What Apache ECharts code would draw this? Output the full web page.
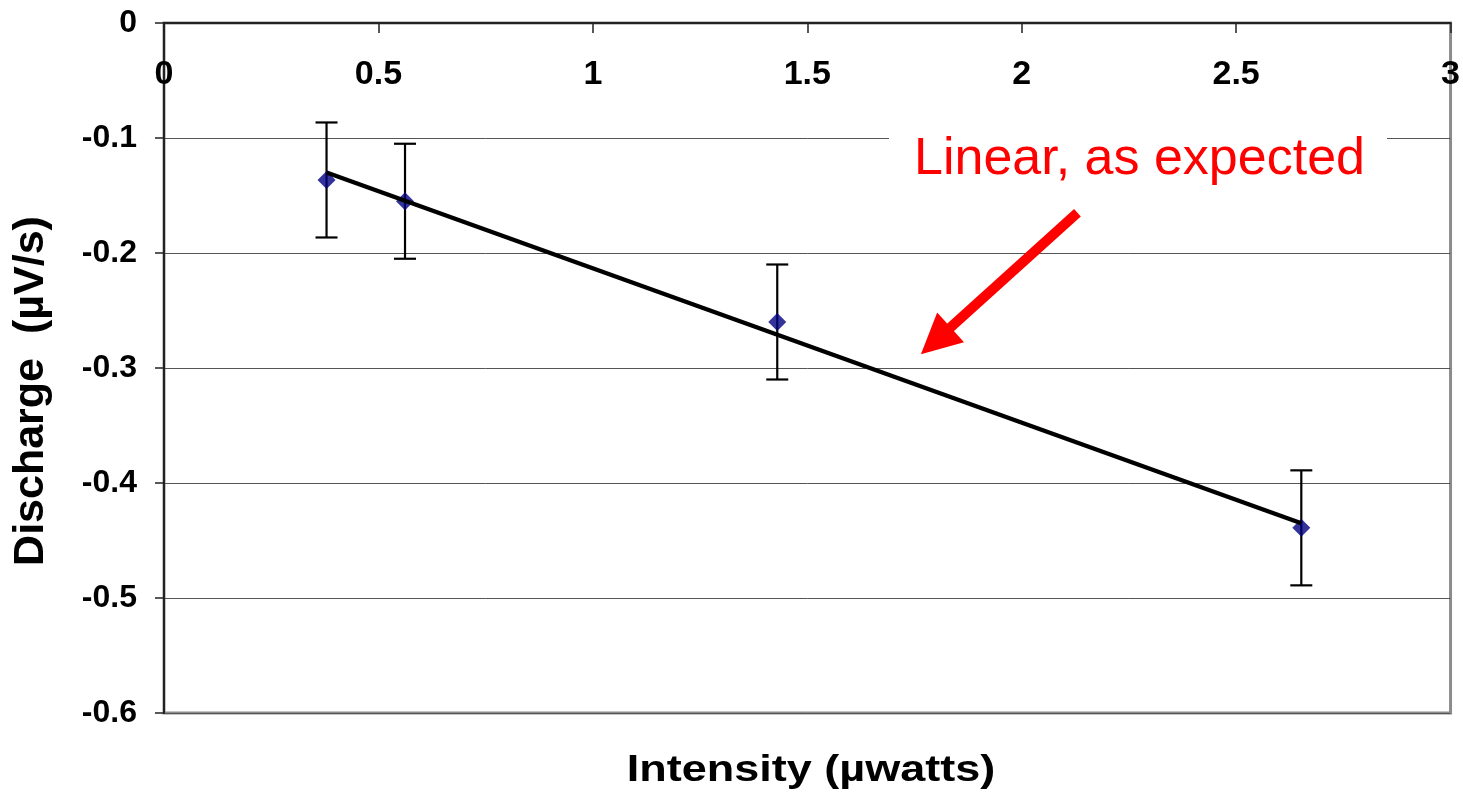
<!DOCTYPE html>
<html>
<head>
<meta charset="utf-8">
<script src="https://cdn.jsdelivr.net/npm/echarts@6/dist/echarts.min.js"></script>
<style>
  html, body { margin: 0; padding: 0; background: #fff; }
  #main { width: 1463px; height: 808px; }
</style>
</head>
<body>
<div id="main"></div>
<script>
// measured data
var intensity = [0.379, 0.562, 1.430, 2.652];
var discharge = [-0.1365, -0.155, -0.260, -0.439];
var errSize = [0.05, 0.05, 0.05, 0.05];
// trend line end points
var trendX = [0.379, 2.652];
var trendY = [-0.130, -0.435];
// annotation arrow (data units)
var arrowTail = [2.130, -0.165];
var arrowTip = [1.765, -0.288];

var font = 'Arial, "Liberation Sans", sans-serif';

var pts = intensity.map(function (x, i) { return [x, discharge[i]]; });
var errData = intensity.map(function (x, i) {
    return [x, discharge[i] - errSize[i], discharge[i] + errSize[i]];
});
var trendData = trendX.map(function (x, i) { return [x, trendY[i]]; });

var chart = echarts.init(document.getElementById('main'));

var option = {
    backgroundColor: '#fff',
    animation: false,
    grid: {
        left: 164, right: 9, top: 23, bottom: 95,
        show: true, borderColor: '#8c8c8c', borderWidth: 3, backgroundColor: 'transparent'
    },
    xAxis: {
        type: 'value', position: 'top',
        min: 0, max: 3, interval: 0.5,
        axisLine: {show: true, onZero: false, lineStyle: {color: '#222', width: 2}},
        axisTick: {show: true, inside: true, length: 10, lineStyle: {color: '#222', width: 1.5}},
        axisLabel: {inside: true, margin: 35, color: '#000', fontSize: 34, fontWeight: 'bold', fontFamily: font},
        splitLine: {show: false}
    },
    yAxis: {
        type: 'value',
        min: -0.6, max: 0, interval: 0.1,
        axisLine: {show: true, onZero: false, lineStyle: {color: '#222', width: 2}},
        axisTick: {show: true, length: 9, lineStyle: {color: '#222', width: 1.5}},
        axisLabel: {margin: 27, color: '#000', fontSize: 32, fontWeight: 'bold', fontFamily: font},
        splitLine: {show: true, lineStyle: {color: '#555', width: 1}}
    },
    series: [
        {
            type: 'custom',
            z: 2,
            data: errData,
            renderItem: function (params, api) {
                var x = api.value(0);
                var lo = api.coord([x, api.value(1)]);
                var hi = api.coord([x, api.value(2)]);
                var cap = 11;
                var st = {stroke: '#000', lineWidth: 2.2};
                return {
                    type: 'group',
                    children: [
                        {type: 'line', shape: {x1: lo[0], y1: lo[1], x2: hi[0], y2: hi[1]}, style: st},
                        {type: 'line', shape: {x1: lo[0] - cap, y1: lo[1], x2: lo[0] + cap, y2: lo[1]}, style: st},
                        {type: 'line', shape: {x1: hi[0] - cap, y1: hi[1], x2: hi[0] + cap, y2: hi[1]}, style: st}
                    ]
                };
            }
        },
        {
            type: 'scatter',
            z: 3,
            data: pts,
            symbol: 'diamond',
            symbolSize: [18, 18],
            itemStyle: {color: '#000080'}
        },
        {
            type: 'line',
            z: 4,
            data: trendData,
            showSymbol: false,
            symbol: 'none',
            lineStyle: {color: '#000', width: 4.5}
        }
    ]
};
chart.setOption(option);

// arrow + texts
var t = chart.convertToPixel({gridIndex: 0}, arrowTail);
var p = chart.convertToPixel({gridIndex: 0}, arrowTip);
var dx = p[0] - t[0], dy = p[1] - t[1];
var len = Math.sqrt(dx * dx + dy * dy);
var ux = dx / len, uy = dy / len;
var headLen = 40, headHalf = 20;
var bx = p[0] - ux * headLen, by = p[1] - uy * headLen;

chart.setOption({
    graphic: [
        {
            type: 'rect', z: 10,
            shape: {x: 889, y: 118, width: 498, height: 44},
            style: {fill: '#fff'}
        },
        {
            type: 'text', z: 11,
            x: 914, y: 160,
            style: {
                text: 'Linear, as expected', x: 0, y: 0,
                font: 'normal 52px ' + font, fill: '#ff0000',
                textAlign: 'left', textVerticalAlign: 'middle', align: 'left', verticalAlign: 'middle'
            }
        },
        {
            type: 'line', z: 12,
            shape: {x1: t[0], y1: t[1], x2: bx + ux * 4, y2: by + uy * 4},
            style: {stroke: '#ff0000', lineWidth: 10}
        },
        {
            type: 'polygon', z: 12,
            shape: {points: [
                [p[0], p[1]],
                [bx - uy * headHalf, by + ux * headHalf],
                [bx + uy * headHalf, by - ux * headHalf]
            ]},
            style: {fill: '#ff0000'}
        },
        {
            type: 'text', z: 11,
            x: 31, y: 391, rotation: Math.PI / 2,
            style: {
                text: 'Discharge  (\u00b5V/s)', x: 0, y: 0,
                font: 'bold 43px ' + font, fill: '#000',
                textAlign: 'center', textVerticalAlign: 'middle', align: 'center', verticalAlign: 'middle'
            }
        },
        {
            type: 'text', z: 11,
            x: 811, y: 771, scaleX: 1.25,
            style: {
                text: 'Intensity (\u00b5watts)', x: 0, y: 0,
                font: 'bold 36px ' + font, fill: '#000',
                textAlign: 'center', textVerticalAlign: 'middle', align: 'center', verticalAlign: 'middle'
            }
        }
    ]
});
</script>
</body>
</html>
